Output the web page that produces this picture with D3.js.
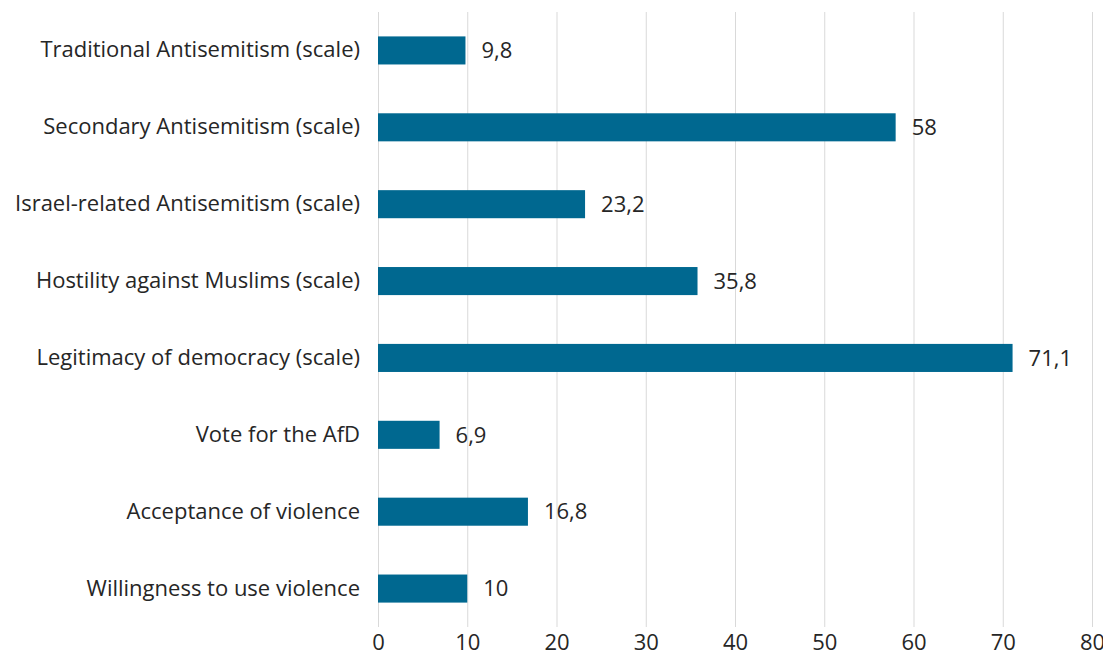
<!DOCTYPE html>
<html>
<head>
<meta charset="utf-8">
<script src="https://cdn.jsdelivr.net/npm/d3@7"></script>
<style>
  body { margin: 0; background: #fff; }
  text { font-family: "Open Sans", Lato, sans-serif; fill: #262626; }
</style>
</head>
<body>
<div id="graf"></div>
<script>
// datos
var categorias = [
  'Traditional Antisemitism (scale)',
  'Secondary Antisemitism (scale)',
  'Israel-related Antisemitism (scale)',
  'Hostility against Muslims (scale)',
  'Legitimacy of democracy (scale)',
  'Vote for the AfD',
  'Acceptance of violence',
  'Willingness to use violence'
]
var valores = [9.8, 58, 23.2, 35.8, 71.1, 6.9, 16.8, 10]
var etiquetas = ['9,8', '58', '23,2', '35,8', '71,1', '6,9', '16,8', '10']
var ticksX = [0, 10, 20, 30, 40, 50, 60, 70, 80]

var ancho_total = 1103
var alto_total = 657
var margins = { top: 12, left: 378, right: 11, bottom: 30 }
var ancho = ancho_total - margins.left - margins.right
var alto = alto_total - margins.top - margins.bottom
var tamFuente = '22px'

var svg = d3.select('#graf').append('svg')
  .attr('width', ancho_total)
  .attr('height', alto_total)

var g = svg.append('g')
  .attr('transform', `translate(${margins.left}, ${margins.top})`)

// Escaladores
var x = d3.scaleLinear().domain([0, 80]).range([0, ancho])
var y = d3.scaleBand().domain(categorias).range([0, alto]).paddingInner(0.635).paddingOuter(0.3175)

// grid
g.selectAll('.grid')
  .data(ticksX)
  .enter().append('line')
  .attr('x1', d => x(d) + 0.5)
  .attr('x2', d => x(d) + 0.5)
  .attr('y1', 0)
  .attr('y2', alto)
  .attr('stroke', '#d9d9d9')
  .attr('stroke-width', 1)

// eje x
var xAxis = g.append('g')
  .attr('transform', `translate(0, ${alto})`)
  .call(d3.axisBottom(x).tickValues(ticksX).tickSize(0).tickPadding(7))
xAxis.select('.domain').remove()
xAxis.selectAll('text').style('font-size', tamFuente).attr('font-family', null)

// eje y
var yAxis = g.append('g')
  .call(d3.axisLeft(y).tickSize(0).tickPadding(18))
yAxis.select('.domain').remove()
yAxis.selectAll('text').style('font-size', tamFuente).attr('font-family', null)

// barras
g.selectAll('.barra')
  .data(valores)
  .enter().append('rect')
  .attr('x', x(0))
  .attr('y', (d, i) => y(categorias[i]))
  .attr('width', d => x(d) - x(0))
  .attr('height', y.bandwidth())
  .attr('fill', '#006890')

// etiquetas
g.selectAll('.etiqueta')
  .data(valores)
  .enter().append('text')
  .attr('x', d => x(d) + 16)
  .attr('y', (d, i) => y(categorias[i]) + y.bandwidth() / 2)
  .attr('dy', '0.35em')
  .style('font-size', tamFuente)
  .text((d, i) => etiquetas[i])
</script>
</body>
</html>
